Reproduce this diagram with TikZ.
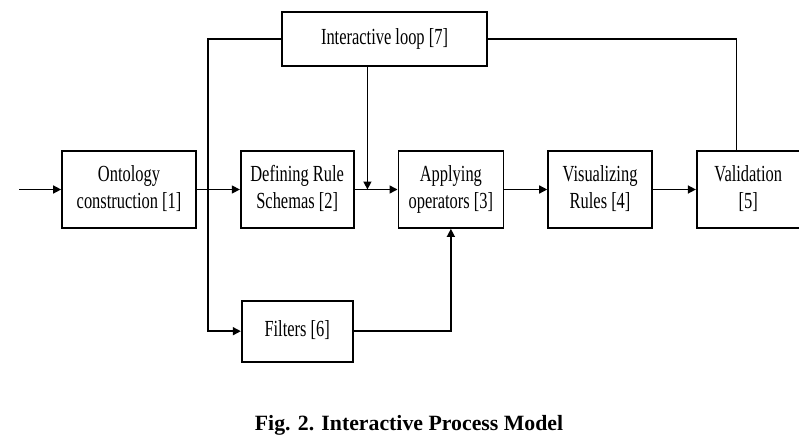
\documentclass[tikz,border=0pt]{standalone}
\usepackage{fontspec}
\setmainfont{Liberation Serif}
\usepackage{graphicx}
\usetikzlibrary{positioning,arrows.meta,calc}

\newcommand{\tallbox}[1]{\scalebox{1}[1.4]{\begin{tabular}{@{}c@{}}#1\end{tabular}}}

\begin{document}
\begin{tikzpicture}[node distance=1.075cm and 1.075cm,
  blk/.style={draw,line width=1.2pt,inner sep=0pt,align=center,minimum height=1.925cm,
    font=\fontsize{11.7}{14}\selectfont},
  arr/.style={line width=1pt,-{Triangle[length=2mm,width=2mm]}},
  lin/.style={line width=0.9pt}]
  \clip (0,0) rectangle (19.975,10.9);
     \node[blk,minimum width=3.35cm] (ont) at (3.225,6.1625) {\tallbox{Ontology\\construction [1]}};
                 \node[blk,minimum width=2.825cm,right=of ont] (def) {\tallbox{Defining Rule\\Schemas [2]}};
                                 \node[blk,minimum width=2.625cm,right=of def] (app) {\tallbox{Applying\\operators [3]}};
                                                 \node[blk,minimum width=2.6cm,right=of app] (vis) {\tallbox{Visualizing\\Rules [4]}};
                                                                 \node[blk,minimum width=2.575cm,right=of vis] (val) {\tallbox{Validation\\{}[5]}};
                        \node[blk,minimum width=5.125cm,minimum height=1.35cm] (loop) at (9.6125,9.925) {\tallbox{Interactive loop [7]}};
                 \node[blk,minimum width=2.775cm,minimum height=1.525cm,below=1.775cm of def] (filt) {\tallbox{Filters [6]}};
  \coordinate[left=1.05cm of ont.west] (in);
  \coordinate (join) at ($(def.east)!0.3!(app.west)$);
  \path[arr] (in) edge (ont.west) ;   \path[arr] (ont) edge (def) ;   \path[arr] (def) edge (app) ;
  \path[arr] (app) edge (vis) ;   \path[arr] (vis) edge (val) ;
  \draw[arr] (loop.west) -- ++(-1.825,0) |- (filt.west);
  \draw[arr] (loop.south -| join) -- (join);
  \draw[lin] ([xshift=-3mm]val.north) |- (loop.east);
  \draw[arr] (filt.east) -| (app.south);
  \node[anchor=base,inner sep=0pt,font=\fontsize{15.5}{18}\selectfont\bfseries] (cap) at (10.225,0.15) {Fig. 2. Interactive Process Model};
\end{tikzpicture}
\end{document}
